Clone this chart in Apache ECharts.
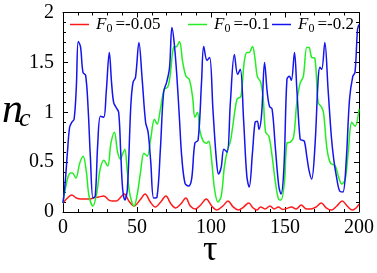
<!DOCTYPE html>
<html><head><meta charset="utf-8">
<script src="https://cdn.jsdelivr.net/npm/echarts@6/dist/echarts.min.js"></script>
<style>html,body{margin:0;padding:0;background:#fff}#c{width:377px;height:273px}</style>
</head><body><div id="c"></div>
<script>
const xTicks = [0, 50, 100, 150, 200];
const yTicks = [0, 0.5, 1, 1.5, 2];
const legendValues = ['-0.05', '-0.1', '-0.2'];

const tauBlue = [0,1.5,3,4.5,6,7.5,9,10.3,11.8,13.5,15.3,17,18.5,20.3,21.8,23.5,25.3,27.5,29.2,31.3,32.8,34.2,35.8,37.6,39,40.3,41.8,43.5,45.8,47.3,49,51.3,53.5,55.8,57.5,59.3,61.3,63.5,65.8,68,70.2,72,73.6,75.1,76.9,78.7,80.2,82.4,84.7,86.9,89.1,91.3,93.6,95.1,97.3,99.1,101.3,103.6,105.1,106.9,108.7,110.9,113.1,115.8,118,119.8,122,124.2,125.8,128,129.8,131.3,132.4,134.2,136.2,138,139.5,141.3,143.5,145.8,147.3,149.3,151.3,153,154.3,156.4,158,160.2,161.5,163.1,164.7,166.2,168,170.2,172.4,173.6,174.8,176.9,179.1,181.3,183,184.7,186.9,189.1,191.3,193.6,195.8,197.3,199,200];
const nBlue = [0.09,0.3,0.6,0.85,0.9,0.93,1.25,1.71,1.66,1.4,1.37,1.03,0.55,0.14,0.16,0.69,0.96,0.95,1.2,1.6,1.3,1.1,1.05,1.0,0.6,0.23,0.12,0.23,1.06,1.3,1.35,1.7,1.33,0.9,0.8,0.5,0.14,0.15,0.63,1.2,1.31,1.45,1.85,1.7,1.37,0.93,0.56,0.29,0.26,0.33,0.69,0.72,1.3,1.66,1.52,1.55,1.03,0.53,0.38,0.45,0.63,0.6,1.1,1.58,1.38,1.43,0.93,0.36,0.25,0.59,0.9,0.91,0.83,0.98,1.5,1.2,1.06,1.03,0.64,0.26,0.18,0.45,1.33,1.36,1.32,1.6,1.23,0.73,0.72,0.71,0.56,0.42,0.33,0.65,1.33,1.45,1.43,1.7,1.23,0.76,0.52,0.36,0.21,0.2,0.5,1.13,1.36,1.4,1.83,1.88];

const tauGreen = [0,1.8,3.6,5,6.4,8.7,11.3,13.6,15.8,17.6,20.2,22.9,25.1,27.6,30.2,32.4,34.7,36.9,38.8,40.2,41.8,43.2,44.7,46.5,48,50.2,52.4,54.7,56.9,59.1,61.8,63.6,65.8,68.4,70.7,72.4,74.7,76.9,78.7,80.9,83.1,85.3,87.6,89.1,90.9,92.4,94.7,96.9,98.5,100.2,102.4,104.7,106.9,109.1,111.3,113,114.7,117.6,120.2,122.4,124.2,125.8,128,129.8,131.3,133.6,135.3,136.9,139.1,141.3,143.6,145.8,147.3,149.6,151.3,153.6,155.8,158,160.2,162.4,164.7,166.2,168,170.2,172.4,174.7,176,178.4,180.7,184,186.2,188.4,190.7,192.9,195.1,197.3,200];
const nGreen = [0.09,0.25,0.36,0.39,0.39,0.34,0.49,0.56,0.4,0.16,0.06,0.2,0.43,0.52,0.46,0.69,0.8,0.6,0.53,0.58,0.63,0.45,0.22,0.1,0.06,0.18,0.4,0.59,0.56,0.72,0.93,0.88,1.03,1.23,1.25,1.37,1.65,1.66,1.71,1.5,1.36,1.33,1.15,0.95,1.0,0.82,0.71,0.69,0.71,0.55,0.23,0.1,0.16,0.46,0.63,0.7,0.86,1.13,1.16,1.5,1.6,1.6,1.66,1.53,1.36,1.3,1.13,0.8,0.76,0.56,0.29,0.125,0.12,0.3,0.69,0.7,0.75,1.1,1.29,1.36,1.65,1.65,1.55,1.54,1.1,1.05,1.0,0.63,0.49,0.46,0.35,0.28,0.33,0.63,0.9,0.86,1.03];

const tauRed = [0,3,6,9,12,15.8,18,20.5,24,27.5,31,33.5,36,38.5,41.5,44.5,48,52,55.5,59,62.4,66,69.5,73,76,79.5,83,86,89.5,93,96.8,100.5,104,108,111.5,115,118.5,122,125.5,128.5,131,133.5,136.5,139.8,142.8,145.5,148.5,151,154.5,157.5,161,164.5,167.5,171,174.5,178,181.5,185,188.7,192,195.5,198,200];
const nRed = [0.09,0.14,0.17,0.14,0.13,0.13,0.13,0.14,0.15,0.16,0.12,0.11,0.11,0.14,0.18,0.11,0.06,0.12,0.18,0.1,0.05,0.1,0.16,0.08,0.04,0.08,0.14,0.06,0.03,0.07,0.13,0.06,0.02,0.06,0.11,0.05,0.02,0.05,0.09,0.04,0.02,0.05,0.03,0.06,0.03,0.05,0.025,0.035,0.05,0.03,0.07,0.03,0.03,0.05,0.09,0.04,0.02,0.06,0.11,0.06,0.02,0.04,0.08];

const zip = (a, b) => a.map((t, i) => [t, b[i]]);
const serif = 'Liberation Serif';
const colors = ['#ff1a1a', '#22ee22', '#1414ee'];
const names = legendValues.map(v => 'F0=' + v);

function xAx(pos, show) {
  return {
    type: 'value', position: pos, min: xTicks[0], max: xTicks[xTicks.length - 1], interval: xTicks[1] - xTicks[0],
    axisLine: { show: true, onZero: false, lineStyle: { color: '#000', width: 1 } },
    axisTick: { show: true, inside: true, length: 5, lineStyle: { color: '#000' } },
    minorTick: { show: true, splitNumber: 5, length: 3, lineStyle: { color: '#000' } },
    splitLine: { show: false }, minorSplitLine: { show: false },
    axisLabel: { show: show, fontFamily: serif, fontSize: 20, color: '#000', margin: 6 }
  };
}
function yAx(pos, show) {
  return {
    type: 'value', position: pos, min: yTicks[0], max: yTicks[yTicks.length - 1], interval: yTicks[1] - yTicks[0],
    axisLine: { show: true, onZero: false, lineStyle: { color: '#000', width: 1 } },
    axisTick: { show: true, inside: true, length: 5, lineStyle: { color: '#000' } },
    minorTick: { show: true, splitNumber: 5, length: 3, lineStyle: { color: '#000' } },
    splitLine: { show: false }, minorSplitLine: { show: false },
    axisLabel: { show: show, fontFamily: serif, fontSize: 20, color: '#000', margin: 9, formatter: v => String(v) }
  };
}
const legendRich = {
  f: { fontFamily: serif, fontStyle: 'italic', fontSize: 17, color: '#000' },
  s: { fontFamily: serif, fontSize: 12, color: '#000', padding: [8, 3, 0, 0] },
  t: { fontFamily: serif, fontSize: 17, color: '#000' }
};
const legendLefts = [70, 188, 272];
const legends = names.map((n, i) => ({
  data: [n], left: legendLefts[i], top: 16, icon: 'rect', itemWidth: 19, itemHeight: 1.5, itemGap: 0,
  padding: 0,
  formatter: () => '{f|F}{s|0}{t|=' + legendValues[i] + '}',
  textStyle: { rich: legendRich, padding: [0, 0, 0, 2] }
}));
const data = [zip(tauRed, nRed), zip(tauGreen, nGreen), zip(tauBlue, nBlue)];
const chart = echarts.init(document.getElementById('c'), null, { renderer: 'canvas' });
chart.setOption({
  animation: false,
  backgroundColor: '#fff',
  grid: { left: 63, right: 13.5, top: 12.5, bottom: 61 },
  xAxis: [xAx('bottom', true), xAx('top', false)],
  yAxis: [yAx('left', true), yAx('right', false)],
  legend: legends,
  series: names.map((n, i) => ({
    name: n, type: 'line', data: data[i], symbol: 'none', smooth: 0.35,
    lineStyle: { color: colors[i], width: 1.5 }, itemStyle: { color: colors[i] }, z: 2 + (i === 1 ? 0 : i)
  })),
  graphic: [
    { type: 'text', left: 2, top: 90, style: { text: 'n', fontFamily: serif, fontStyle: 'italic', fontSize: 42, fill: '#000' } },
    { type: 'text', left: 19, top: 106, style: { text: 'c', fontFamily: serif, fontStyle: 'italic', fontSize: 26, fill: '#000' } },
    { type: 'text', left: 203, top: 233, style: { text: 'τ', fontFamily: serif, fontSize: 36, fill: '#000' } }
  ]
});
</script></body></html>
